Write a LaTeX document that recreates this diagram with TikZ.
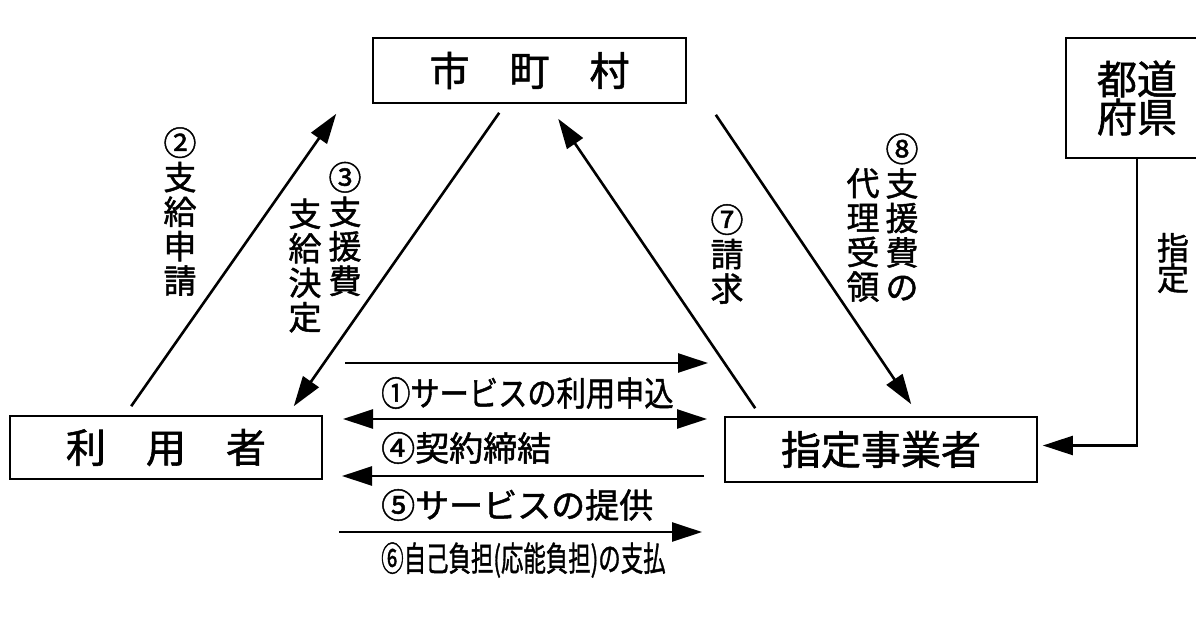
\documentclass[tikz,border=0pt]{standalone}
\usepackage{fontspec}
\setmainfont{Noto Sans CJK JP}[FakeBold=1.4]
\usetikzlibrary{arrows.meta}

\begin{document}
\begin{tikzpicture}[x = 1pt, y = -1pt, box/.style = {draw, line width = 1.6pt, inner sep = 0pt, align = center, font = \fontsize{40}{38}\selectfont}, tate/.style = {align = center, inner sep = 0pt, font = \fontsize{33}{34.5}\selectfont}, yoko/.style = {anchor = west, inner sep = 0pt, font = \fontsize{34}{34}\selectfont}, arr/.style = {line width = 2.6pt, -{Triangle[length = 30pt, width = 19pt]}}]
    \useasboundingbox (0,0) rectangle (1196,626);
    \clip (0,0) rectangle (1196,626);
    \node[box, minimum width = 313pt, minimum height = 65pt] (shicho) at (529.5,70.5) {市　町　村};
    \node[box, minimum width = 312pt, minimum height = 63pt] (riyo) at (166,447.5) {利　用　者};
    \node[box, minimum width = 312pt, minimum height = 65pt] (shitei) at (881,449.5) {指定事業者};
    \node[box, minimum width = 142pt, minimum height = 120pt] (todo) at (1137,98) {都道\\府県};
    % vertical labels
    \node[tate] (l2) at (180,211.5) {②\\支\\給\\申\\請};
    \node[tate] (l3a) at (345,229) {③\\支\\援\\費};
    \node[tate] (l3b) at (305,265.5) {支\\給\\決\\定};
    \node[tate] (l7) at (727,254) {⑦\\請\\求};
    \node[tate] (l8a) at (902,217) {⑧\\支\\援\\費\\の};
    \node[tate] (l8b) at (863,235) {代\\理\\受\\領};
    \node[tate, font = \fontsize{32}{28}\selectfont] (lsitei) at (1173,263) {指\\定};
    % horizontal labels
    \node[yoko] (l1) at (381,393) {\scalebox{0.86}[1]{①サービスの利用申込}};
    \node[yoko] (l4) at (381,448) {④契約締結};
    \node[yoko] (l5) at (381,505) {⑤サービスの提供};
    \node[yoko] (l6) at (381,560) {\scalebox{0.66}[1]{⑥自己負担(応能負担)の支払}};
    \coordinate (a1s) at (345,363);
    \coordinate (a1e) at (708,363);
    \coordinate (a4s) at (343,419);
    \coordinate (a4e) at (707,419);
    \coordinate (a5s) at (704,476);
    \coordinate (a5e) at (342,476);
    \coordinate (a6s) at (339,532);
    \coordinate (a6e) at (702,532);
    % connectors
    \draw[arr] ([xshift = 122pt, yshift = 9pt]riyo.north west) -- ([xshift = -36pt, yshift = -10pt]shicho.south west);
    \draw[arr] ([xshift = 127pt, yshift = -9pt]shicho.south west) -- ([xshift = -29pt, yshift = 9pt]riyo.north east);
    \draw[arr] ([xshift = 31pt, yshift = 8pt]shitei.north west) -- ([xshift = 186pt, yshift = -15pt]shicho.south west);
    \draw[arr] ([xshift = 29pt, yshift = -11pt]shicho.south east) -- ([xshift = 187pt, yshift = 12pt]shitei.north west);
    \draw[arr, line width = 2.2pt] (todo.south) |- ([xshift = 5pt, yshift = 4pt]shitei.east);
    \draw[arr] (a1s) -- (a1e);
    \draw[arr, {Triangle[length = 30pt, width = 19pt]}-{Triangle[length = 30pt, width = 19pt]}] (a4s) -- (a4e);
    \draw[arr] (a5s) -- (a5e);
    \draw[arr] (a6s) -- (a6e);
\end{tikzpicture}
\end{document}
